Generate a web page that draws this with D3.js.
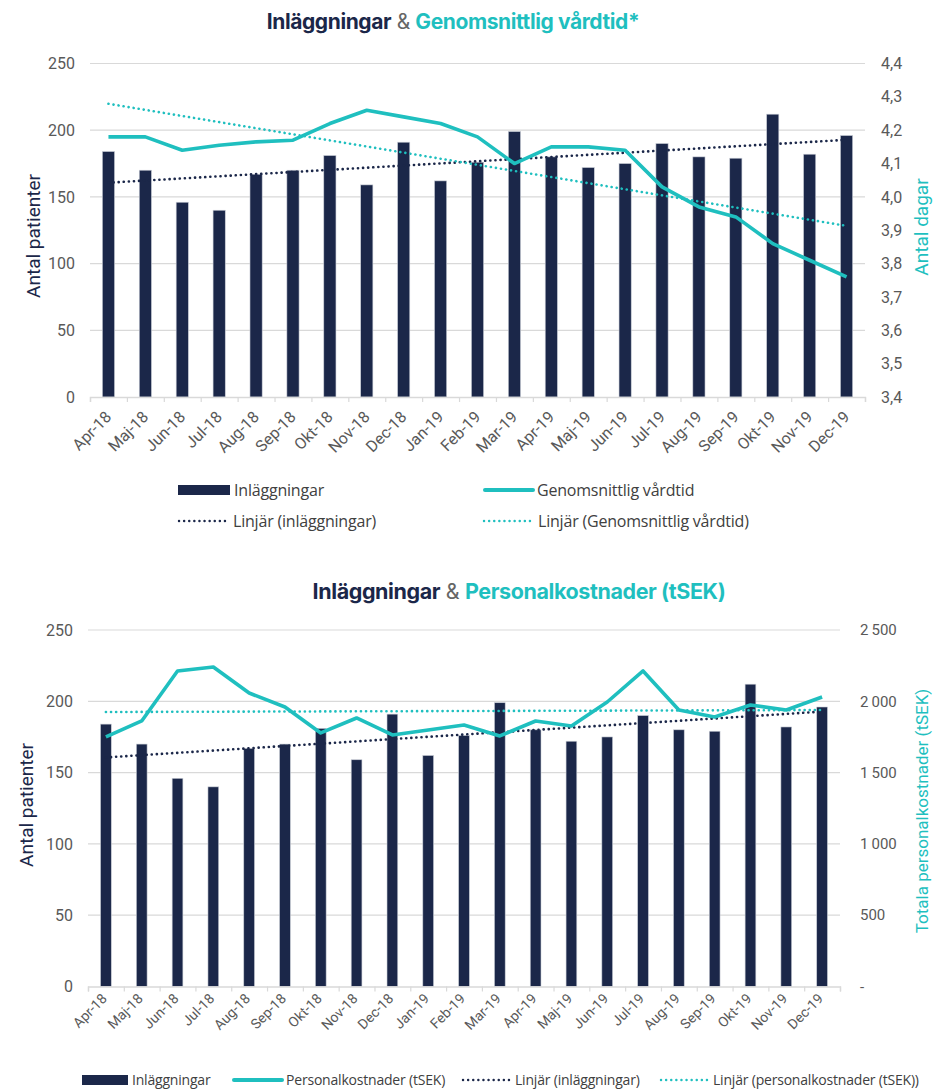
<!DOCTYPE html>
<html>
<head>
<meta charset="utf-8">
<script src="https://cdn.jsdelivr.net/npm/d3@7"></script>
<style>
  body { margin: 0; background: #fff; }
  text { font-family: Roboto, "Noto Sans", sans-serif; }
</style>
</head>
<body>
<svg id="chart" width="939" height="1092"></svg>
<script>
// data
const months = ['Apr-18', 'Maj-18', 'Jun-18', 'Jul-18', 'Aug-18', 'Sep-18', 'Okt-18', 'Nov-18', 'Dec-18', 'Jan-19',
  'Feb-19', 'Mar-19', 'Apr-19', 'Maj-19', 'Jun-19', 'Jul-19', 'Aug-19', 'Sep-19', 'Okt-19', 'Nov-19', 'Dec-19'];
const inlaggningar = [184, 170, 146, 140, 167, 170, 181, 159, 191, 162, 176, 199, 180, 172, 175, 190, 180, 179, 212, 182, 196];
const vardtid = [4.18, 4.18, 4.14, 4.155, 4.165, 4.17, 4.22, 4.26, 4.24, 4.22, 4.18, 4.10, 4.15, 4.15, 4.14, 4.03, 3.97, 3.94, 3.86, 3.81, 3.76];
const personalkostnader = [1750, 1862, 2213, 2241, 2058, 1960, 1778, 1883, 1764, 1799, 1834, 1757, 1862, 1827, 1995, 2213, 1939, 1890, 1974, 1939, 2030];
const patientTicks = [0, 50, 100, 150, 200, 250];
const dagarTicks = [3.4, 3.5, 3.6, 3.7, 3.8, 3.9, 4.0, 4.1, 4.2, 4.3, 4.4];
const kostnadTicks = [0, 500, 1000, 1500, 2000, 2500];

const navy = '#1b2749', teal = '#1fbfbf', grey = '#595959', gridCol = '#d9d9d9';

// least squares trend, same as the Excel "Linjär" line
function trend(values) {
  const n = values.length, mx = (n - 1) / 2, my = d3.mean(values);
  let sxy = 0, sxx = 0;
  values.forEach((v, i) => { sxy += (i - mx) * (v - my); sxx += (i - mx) ** 2; });
  const b = sxy / sxx;
  return values.map((v, i) => my + b * (i - mx));
}

const svg = d3.select('#chart');

function drawChart(o) {
  const g = svg.append('g');
  const x = d3.scaleBand().domain(months).range([o.x0, o.x1]);
  const xi = d3.scaleLinear().domain([0, months.length]).range([o.x0, o.x1]);
  const yL = d3.scaleLinear().domain([0, 250]).range([o.yBottom, o.yTop]);
  const yR = d3.scaleLinear().domain(o.rightDomain).range([o.yBottom, o.yTop]);
  const cx = m => x(m) + x.bandwidth() / 2;

  // gridlines
  g.append('g').selectAll('line').data(patientTicks.slice(1)).join('line')
    .attr('x1', o.x0).attr('x2', o.x1)
    .attr('y1', d => yL(d)).attr('y2', d => yL(d))
    .attr('stroke', gridCol).attr('stroke-width', 1.2);

  // left labels
  g.append('g').selectAll('text').data(patientTicks).join('text')
    .attr('x', o.x0 - 15).attr('y', d => yL(d)).attr('dy', '0.35em')
    .attr('text-anchor', 'end').attr('fill', grey).style('font-size', '16px')
    .text(d => d);

  // right labels
  g.append('g').selectAll('text').data(o.rightTicks).join('text')
    .attr('x', o.x1 + o.rightGap).attr('y', d => yR(d)).attr('dy', '0.35em')
    .attr('fill', grey).style('font-size', o.rightFont)
    .text(o.rightFormat);

  // bars
  const bw = x.bandwidth() * o.barFrac;
  g.append('g').selectAll('rect').data(inlaggningar).join('rect')
    .attr('x', (d, i) => cx(months[i]) - bw / 2)
    .attr('width', bw)
    .attr('y', d => yL(d))
    .attr('height', d => o.yBottom - yL(d))
    .attr('fill', navy)
    .attr('stroke', '#c9cdd6').attr('stroke-width', 0.6);

  // x axis, ticks at category edges
  const ax = g.append('g').attr('transform', `translate(0,${o.yBottom})`)
    .call(d3.axisBottom(xi).tickValues(d3.range(months.length + 1)).tickSize(5).tickFormat(''));
  ax.select('.domain').attr('stroke', gridCol).attr('stroke-width', 1.4);
  ax.selectAll('.tick line').attr('stroke', gridCol).attr('stroke-width', 1.2);

  g.append('g').selectAll('text').data(months).join('text')
    .attr('transform', m => `translate(${cx(m) + o.labDx},${o.yBottom + o.labDy}) rotate(-45)`)
    .attr('text-anchor', 'end').attr('fill', grey).style('font-size', o.labFont)
    .text(m => m);

  // trend lines
  const line = d3.line().x((d, i) => cx(months[i]));
  g.append('path').datum(trend(inlaggningar))
    .attr('d', line.y(d => yL(d)))
    .attr('fill', 'none').attr('stroke', navy).attr('stroke-width', 2.6)
    .attr('stroke-linecap', 'round').attr('stroke-dasharray', '0.1 5');
  g.append('path').datum(trend(o.lineData))
    .attr('d', line.y(d => yR(d)))
    .attr('fill', 'none').attr('stroke', teal).attr('stroke-width', 2.6)
    .attr('stroke-linecap', 'round').attr('stroke-dasharray', '0.1 5');

  // main line
  g.append('path').datum(o.lineData)
    .attr('d', line.y(d => yR(d)))
    .attr('fill', 'none').attr('stroke', teal).attr('stroke-width', 3.6)
    .attr('stroke-linejoin', 'round');

  // axis titles
  g.append('text')
    .attr('transform', `translate(${o.leftTitleX},${o.leftTitleY}) rotate(-90)`)
    .attr('text-anchor', 'middle').attr('fill', navy).style('font-size', '19px')
    .text('Antal patienter');
  g.append('text')
    .attr('transform', `translate(${o.rightTitleX},${o.rightTitleY}) rotate(-90)`)
    .attr('text-anchor', 'middle').attr('fill', teal).style('font-size', o.rightTitleFont)
    .text(o.rightTitle);

  // chart title
  const t = g.append('text').attr('x', o.titleX).attr('y', o.titleY)
    .attr('text-anchor', 'middle')
    .style('font-family', 'Inter, Lato, sans-serif').style('font-size', o.titleFont)
    .style('letter-spacing', '-0.4px');
  t.append('tspan').attr('fill', navy).style('font-weight', 700).text('Inläggningar');
  t.append('tspan').attr('fill', '#666').style('font-weight', 400).text(' & ');
  t.append('tspan').attr('fill', teal).style('font-weight', 700).text(o.titleRest);

  // legend
  const lg = g.append('g');
  o.legend.forEach(it => {
    if (it.kind === 'bar') {
      lg.append('rect').attr('x', it.x).attr('y', it.y - 5).attr('width', it.w).attr('height', 10).attr('fill', navy);
    } else {
      lg.append('line').attr('x1', it.x).attr('x2', it.x + it.w).attr('y1', it.y).attr('y2', it.y)
        .attr('stroke', it.color)
        .attr('stroke-width', it.kind === 'line' ? 4 : 2.4)
        .attr('stroke-linecap', 'round')
        .attr('stroke-dasharray', it.kind === 'line' ? null : '0.1 5');
    }
    lg.append('text').attr('x', it.x + it.w + 4).attr('y', it.y).attr('dy', '0.35em')
      .attr('fill', '#404040')
      .style('font-family', '"Open Sans", Roboto, sans-serif')
      .style('font-size', o.legendFont)
      .style('letter-spacing', '-0.2px')
      .text(it.label);
  });
}

drawChart({
  x0: 90, x1: 865, yTop: 63.5, yBottom: 397,
  rightDomain: [3.4, 4.4], rightTicks: dagarTicks, rightGap: 16, rightFont: '16px',
  rightFormat: d => d3.format('.1f')(d).replace('.', ','),
  barFrac: 0.33, labDx: 4, labDy: 21, labFont: '16px',
  lineData: vardtid,
  leftTitleX: 40, leftTitleY: 236, rightTitleX: 928, rightTitleY: 227,
  rightTitle: 'Antal dagar', rightTitleFont: '19px',
  titleX: 453, titleY: 29, titleFont: '21px', titleRest: 'Genomsnittlig vårdtid*',
  legendFont: '16px',
  legend: [
    { kind: 'bar', x: 178, y: 490, w: 52, label: 'Inläggningar' },
    { kind: 'line', x: 485, y: 490, w: 48, color: teal, label: 'Genomsnittlig vårdtid' },
    { kind: 'dot', x: 179, y: 521, w: 50, color: navy, label: 'Linjär (inläggningar)' },
    { kind: 'dot', x: 484, y: 521, w: 50, color: teal, label: 'Linjär (Genomsnittlig vårdtid)' }
  ]
});

drawChart({
  x0: 88, x1: 840, yTop: 630, yBottom: 986.5,
  rightDomain: [0, 2500], rightTicks: kostnadTicks, rightGap: 20, rightFont: '15px',
  rightFormat: d => d === 0 ? '-' : d3.format(',')(d).replace(',', '\u2009'),
  barFrac: 0.3, labDx: 2, labDy: 13, labFont: '14px',
  lineData: personalkostnader,
  leftTitleX: 33, leftTitleY: 805, rightTitleX: 928, rightTitleY: 811,
  rightTitle: 'Totala personalkostnader (tSEK)', rightTitleFont: '17px',
  titleX: 519, titleY: 599, titleFont: '21.5px', titleRest: 'Personalkostnader (tSEK)',
  legendFont: '14px',
  legend: [
    { kind: 'bar', x: 82, y: 1080, w: 46, label: 'Inläggningar' },
    { kind: 'line', x: 234, y: 1080, w: 48, color: teal, label: 'Personalkostnader (tSEK)' },
    { kind: 'dot', x: 463, y: 1080, w: 48, color: navy, label: 'Linjär (inläggningar)' },
    { kind: 'dot', x: 661, y: 1080, w: 48, color: teal, label: 'Linjär (personalkostnader (tSEK))' }
  ]
});
</script>
</body>
</html>
